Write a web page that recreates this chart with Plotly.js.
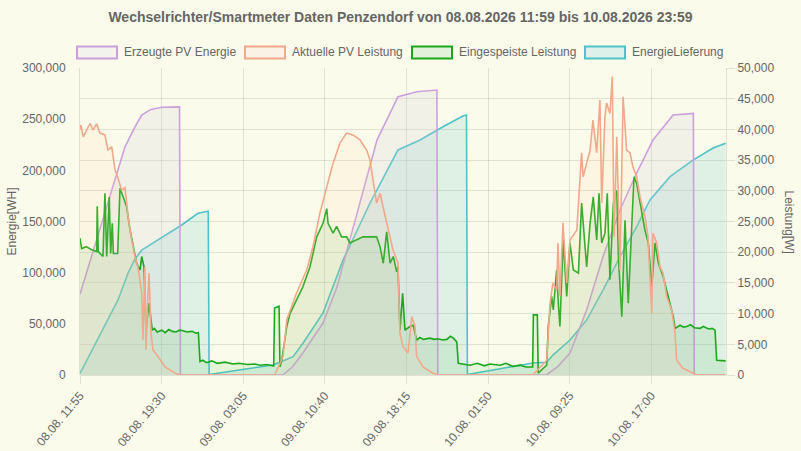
<!DOCTYPE html>
<html>
<head>
<meta charset="utf-8">
<script src="https://cdn.plot.ly/plotly-3.0.1.min.js"></script>
<style>html,body{margin:0;padding:0;background:#fbfbeb;}#chart{width:801px;height:451px;}</style>
</head>
<body>
<div id="chart"></div>
<script>
// ---- Data (time as "DD HH:MM", August 2026) ----
const erzeugtT = ["08 11:55","08 13:35","08 15:10","08 16:06","08 17:02","08 17:39","08 18:30","08 19:32","08 21:10","08 21:15",
  "09 06:45","09 07:40","09 08:38","09 10:30","09 11:48","09 13:00","09 14:13","09 15:31","09 17:28","09 19:14","09 21:05","09 21:10",
  "10 07:15","10 08:20","10 09:27","10 11:00","10 12:31","10 14:06","10 15:39","10 17:10","10 19:02","10 20:55","10 21:00","10 23:55"];
const erzeugtV = [79000,136000,192500,223000,242600,254000,259500,261600,262000,0,
  0,8000,21500,50800,86000,132000,180800,229600,272000,276800,278500,0,
  0,8500,21500,63500,115600,161200,197400,229600,254000,255700,0,0];

const leistT = ["08 11:55","08 12:00","08 12:13","08 12:51","08 13:07","08 13:28","08 13:46","08 14:14","08 14:31","08 14:52","08 15:10","08 15:27","08 15:47","08 16:06","08 16:23","08 16:43","08 17:02","08 17:18","08 17:39","08 17:46","08 17:57","08 18:03","08 18:14","08 18:20","08 18:31","08 18:42","08 19:10","08 19:49","08 20:45","08 21:15",
  "09 06:00","09 06:12","09 06:47","09 07:08","09 08:03","09 08:59","09 09:34","09 10:13","09 10:51","09 11:26","09 12:05","09 12:42","09 13:17","09 13:56","09 14:34","09 14:52","09 15:29","09 15:48","09 16:25","09 17:00","09 17:28","09 17:39","09 17:56","09 18:24","09 18:45","09 19:03","09 19:12","09 19:48","09 20:43","09 21:10",
  "10 06:00","10 07:17","10 07:36","10 07:52","10 08:13","10 08:20","10 08:31","10 08:48","10 09:09","10 09:27","10 10:05","10 10:32","10 10:40","10 11:00","10 11:19","10 11:35","10 11:56","10 12:14","10 12:24","10 12:42","10 12:51","10 13:10","10 13:23","10 13:33","10 13:48","10 14:06","10 14:23","10 14:43","10 15:02","10 15:18","10 15:39","10 15:58","10 16:25","10 16:42","10 17:03","10 17:10","10 17:31","10 17:49","10 18:06","10 18:26","10 18:54","10 19:13","10 19:22","10 19:57","10 20:53","10 21:15","10 23:55"];
const leistV = [40000,40700,38800,41000,39900,40900,39400,39100,36600,37200,33400,32100,30100,30500,25800,22000,19300,17600,13400,5700,17600,4100,13400,16600,6800,4100,3000,1300,300,0,
  0,800,3000,9000,13400,17100,20900,26400,30700,34500,37800,39400,39100,38300,36600,35000,28000,29600,24800,20400,18200,6800,4600,3600,9500,7900,3000,1300,300,0,
  0,2400,11700,15000,13800,21500,12900,24800,15000,22000,23600,36200,32300,34500,36600,41500,36200,44800,28000,42100,44300,42600,48600,22500,38800,17100,45300,36600,36200,33900,32300,29000,25800,22500,10000,23100,21500,17600,16600,12800,10600,6800,2400,1100,300,0,0];

const einT = [
  "08 11:55","08 12:04","08 12:30","08 13:00","08 13:28","08 13:31","08 13:37","08 14:03","08 14:14","08 14:24",
  "08 14:38","08 14:46","08 14:55","08 15:01","08 15:25","08 15:38","08 15:56","08 16:15","08 16:34","08 16:52",
  "08 17:11","08 17:30","08 17:39","08 17:52","08 18:03","08 18:20","08 18:38","08 18:50","08 19:05","08 19:31",
  "08 19:50","08 20:10","08 20:30","08 20:50","08 21:10","08 21:30","08 21:50","08 22:20","08 22:40","08 22:55",
  "08 23:04","08 23:20","08 23:40","09 00:10","09 00:40","09 01:24","09 02:08","09 02:40","09 03:30","09 04:10",
  "09 04:40","09 05:16","09 05:55","09 06:00","09 06:25","09 06:30","09 06:40","09 07:08","09 07:26","09 08:38",
  "09 09:17","09 09:55","09 10:13","09 10:30","09 10:51","09 10:58","09 11:26","09 11:46","09 12:14","09 12:42",
  "09 13:00","09 13:38","09 14:13","09 14:52","09 15:29","09 15:48","09 16:06","09 16:25","09 16:44","09 17:02",
  "09 17:21","09 17:28","09 17:39","09 17:54","09 18:07","09 18:35","09 18:53","09 19:12","09 19:30","09 19:50",
  "09 20:27","09 20:50","09 21:10","09 21:39","09 22:00","09 22:20","09 22:37","09 22:56","09 23:04","10 00:10",
  "10 00:50","10 01:30","10 02:00","10 02:57","10 03:30","10 04:10","10 04:50","10 05:20","10 05:44","10 05:59",
  "10 06:03","10 06:25","10 06:30","10 07:17","10 07:26","10 07:45","10 07:54","10 08:13","10 08:22","10 08:31",
  "10 08:49","10 09:09","10 09:27","10 09:46","10 10:14","10 10:32","10 11:00","10 11:19","10 11:37","10 11:56",
  "10 12:09","10 12:24","10 12:42","10 12:55","10 13:10","10 13:29","10 13:48","10 13:57","10 14:16","10 14:34",
  "10 14:52","10 15:11","10 15:24","10 15:39","10 15:58","10 16:25","10 16:44","10 17:03","10 17:21","10 17:40",
  "10 18:07","10 18:35","10 19:03","10 19:13","10 19:41","10 20:00","10 20:18","10 20:40","10 21:00","10 21:32",
  "10 21:50","10 22:20","10 22:40","10 22:56","10 23:05","10 23:55"];
const einV = [
  22300,20600,20900,20400,20100,27500,20100,19300,29600,19300,
  29000,19800,24700,19800,19800,30400,29000,27400,23600,20900,
  18200,17100,19300,17600,7300,11700,7300,7600,7000,7300,
  6900,7400,7100,7000,7300,7200,7000,7100,6800,6900,
  2200,2400,2000,2300,1900,2100,1800,1900,1700,1800,
  1600,1700,1450,10900,11200,1300,2400,7900,10000,14400,
  17600,22500,23600,24700,27100,24700,23100,24200,22500,22500,
  21500,22000,22500,22500,22500,20900,18200,23300,18200,19300,
  16800,17600,7300,13300,7300,7900,8100,5700,6100,5800,
  6000,5800,5900,5700,5800,6300,6000,5400,1900,1600,
  1900,1500,1800,1600,1900,1400,1600,1300,1250,1300,
  9800,9800,300,1600,7900,12800,10600,17100,11700,7900,
  22000,12800,21500,17100,16600,28000,17600,24700,29000,22000,
  29600,21500,23100,29600,15500,28000,30100,19300,9500,25200,
  11700,22500,32300,31200,28000,23600,21500,14400,21500,18200,
  16000,12800,9500,7600,8100,7800,7900,8200,7700,7600,
  7900,7500,7600,7300,2400,2300];

const lieferT = ["08 11:55","08 15:27","08 16:23","08 17:00","08 17:39","08 19:31","08 21:22","08 22:53","08 23:50","08 23:55",
  "09 05:51","09 07:43","09 08:38","09 10:30","09 12:21","09 14:52","09 17:28","09 19:31","09 21:39","09 23:30","09 23:50","09 23:55",
  "10 06:00","10 07:17","10 07:52","10 09:27","10 11:00","10 12:31","10 14:06","10 15:39","10 16:53","10 18:45","10 20:53","10 22:45","10 23:40","10 23:55"];
const lieferV = [1500,73300,99700,113000,122000,134000,146600,158000,160000,500,
  9800,17900,31000,60600,112000,168000,219900,229600,242600,253000,254000,500,
  11700,12500,19500,34200,53700,83000,115600,145000,171000,193800,210000,221800,225700,226500];

const seriesNames = ["Erzeugte PV Energie","Aktuelle PV Leistung","Eingespeiste Leistung","EnergieLieferung"];
const tickVals = ["2026-08-08 11:55","2026-08-08 19:30","2026-08-09 03:05","2026-08-09 10:40","2026-08-09 18:15","2026-08-10 01:50","2026-08-10 09:25","2026-08-10 17:00"];
const tickLabels = ["08.08. 11:55","08.08. 19:30","09.08. 03:05","09.08. 10:40","09.08. 18:15","10.08. 01:50","10.08. 09:25","10.08. 17:00"];
const leftTicks = [0,50000,100000,150000,200000,250000,300000];

const toDate = s => "2026-08-" + s.slice(0,2) + " " + s.slice(3);

const FONT = "Liberation Sans, Arial, Helvetica, sans-serif";
const styles = [
  {line:"rgb(204,160,220)", fill:"rgba(205,205,215,0.2)", box:"#f3f3ee"},
  {line:"rgb(242,168,138)", fill:"rgba(252,205,170,0.13)", box:"#fbf2e6"},
  {line:"rgb(28,168,28)",   fill:"rgba(70,190,70,0.12)",   box:"#e2f1d9"},
  {line:"rgb(78,194,200)",  fill:"rgba(80,195,200,0.16)",  box:"#ddf1eb"}
];

function tr(t, v, i, axis){
  return {x:t.map(toDate), y:v, name:seriesNames[i], type:"scatter", mode:"lines",
    yaxis:axis, fill:"tozeroy", fillcolor:styles[i].fill,
    line:{color:styles[i].line, width:1.6}, hoverinfo:"x+y"};
}
// Draw order: first dataset on top (like Chart.js)
const data = [
  tr(lieferT, lieferV, 3, "y"),
  tr(erzeugtT, erzeugtV, 0, "y"),
  tr(einT, einV, 2, "y2"),
  tr(leistT, leistV, 1, "y2")
];

const W=801,H=451,ML=80,MR=75,MT=68,MB=76;
const PW=W-ML-MR, PH=H-MT-MB;
const px = x => (x-ML)/PW;
const py = y => (H-MB-y)/PH;

const legendBoxes = [77,245,412,585];
const shapes=[], annotations=[];
legendBoxes.forEach((bx,i)=>{
  shapes.push({type:"rect", xref:"paper", yref:"paper", x0:px(bx), x1:px(bx+40), y0:py(58.5), y1:py(46.5),
    line:{color:styles[i].line, width:2}, fillcolor:styles[i].box, layer:"above"});
  annotations.push({xref:"paper", yref:"paper", x:px(bx+45), y:py(52.5), xanchor:"left", yanchor:"middle",
    text:seriesNames[i], showarrow:false, font:{family:FONT, size:12, color:"#666"}});
});
annotations.push({xref:"paper", yref:"paper", x:px(11), y:0.5, xanchor:"center", yanchor:"middle",
  text:"Energie[WH]", textangle:-90, showarrow:false, font:{family:FONT, size:12, color:"#666"}});
annotations.push({xref:"paper", yref:"paper", x:px(789), y:0.5, xanchor:"center", yanchor:"middle",
  text:"Leistung[W]", textangle:90, showarrow:false, font:{family:FONT, size:12, color:"#666"}});

const grid="rgba(0,0,0,0.1)";
const layout = {
  width:W, height:H, margin:{l:ML, r:MR, t:MT, b:MB, pad:0},
  paper_bgcolor:"#fbfbeb", plot_bgcolor:"#fbfbeb",
  showlegend:false,
  font:{family:FONT, size:12, color:"#666"},
  title:{text:"<b>Wechselrichter/Smartmeter Daten Penzendorf von 08.08.2026 11:59 bis 10.08.2026 23:59</b>",
    x:0.5, xref:"container", xanchor:"center", y:1-17/H, yref:"container", yanchor:"middle",
    font:{family:FONT, size:14, color:"#666"}},
  xaxis:{type:"date", range:["2026-08-08 11:55","2026-08-10 23:57"], tickmode:"array",
    tickvals:tickVals, ticktext:tickLabels, tickangle:-50, showgrid:true, gridcolor:grid,
    ticks:"outside", ticklen:8, tickcolor:grid, zeroline:false, showline:false,
    tickfont:{family:FONT, size:12, color:"#666"}},
  yaxis:{range:[0,300000], tickmode:"array", tickvals:leftTicks, tickformat:",", showgrid:false,
    zeroline:false, ticks:"outside", ticklen:11, tickcolor:"rgba(0,0,0,0)", showline:true, linecolor:grid,
    tickfont:{family:FONT, size:12, color:"#666"}},
  yaxis2:{range:[0,50000], overlaying:"y", side:"right", dtick:5000, tickformat:",", showgrid:true, gridcolor:grid,
    zeroline:true, zerolinecolor:grid, ticks:"outside", ticklen:8, tickcolor:grid, showline:true, linecolor:grid,
    tickfont:{family:FONT, size:12, color:"#666"}},
  shapes:shapes, annotations:annotations
};
Plotly.newPlot("chart", data, layout, {displayModeBar:false, staticPlot:true});
</script>
</body>
</html>
